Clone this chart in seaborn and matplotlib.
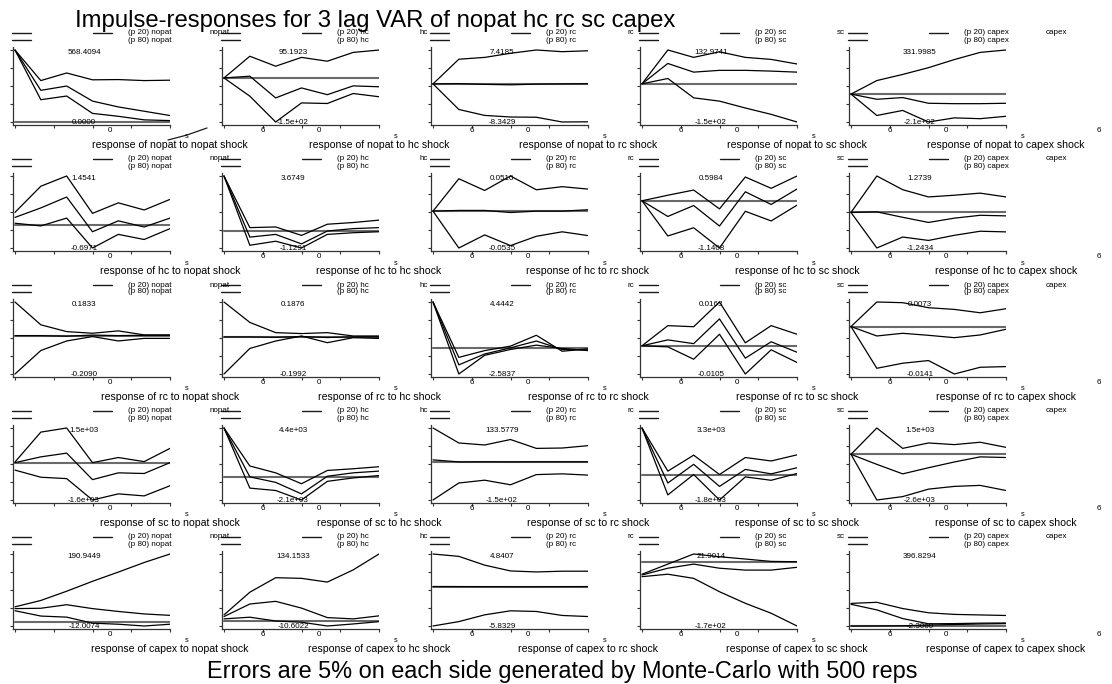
import numpy as np
import pandas as pd
import seaborn as sns
import matplotlib.pyplot as plt
from matplotlib.lines import Line2D

# variables of the VAR, steps of the impulse responses
names = ['nopat', 'hc', 'rc', 'sc', 'capex']
steps = [1, 2, 3, 4, 5, 6, 7]

# max / min labels of each panel (row = response, column = shock)
hi_labels = [['568.4094', '95.1923', '7.4185', '132.9741', '331.9985'],
             ['1.4541', '3.6749', '0.0510', '0.5984', '1.2739'],
             ['0.1833', '0.1876', '4.4442', '0.0163', '0.0073'],
             ['1.5e+03', '4.4e+03', '133.5779', '3.3e+03', '1.5e+03'],
             ['190.9449', '134.1533', '4.8407', '21.9014', '396.8294']]
lo_labels = [['0.0000', '-1.5e+02', '-8.3429', '-1.5e+02', '-2.1e+02'],
             ['-0.6971', '-1.1291', '-0.0535', '-1.1408', '-1.2434'],
             ['-0.2090', '-0.1992', '-2.5837', '-0.0105', '-0.0141'],
             ['-1.6e+03', '-2.1e+03', '-1.5e+02', '-1.8e+03', '-2.6e+03'],
             ['-12.0074', '-10.6022', '-5.8329', '-1.7e+02', '-2.3060']]

# each panel: [upper band, response, lower band]
resp_nopat = [
    [[568, 327, 387, 333, 335, 327, 330], [568, 250, 284, 165, 119, 85, 51], [568, 176, 205, 68, 45, 17, 11]],
    [[0, 74, 40, 70, 57, 87, 95], [0, 6, -68, -34, -57, -27, -30], [0, -62, -150, -85, -87, -53, -64]],
    [[0, 5.4, 5.8, 6.7, 7.42, 7.05, 7.25], [0, 0.05, -0.1, -0.2, -0.05, 0, 0.05], [0, -5.6, -6.9, -7.25, -7.3, -8.34, -8.3]],
    [[0, 133, 104, 126, 104, 96, 78], [0, 80, 46, 53, 53, 50, 46], [0, 21, -55, -68, -95, -120, -150]],
    [[0, 102, 148, 199, 260, 314, 332], [0, -39, -26, -69, -72, -72, -69], [0, -161, -123, -210, -179, -185, -167]],
]
resp_hc = [
    [[0.368, 1.149, 1.454, 0.338, 0.652, 0.439, 0.755], [0.217, 0.501, 0.826, -0.211, 0.114, -0.069, 0.196],
     [0.043, -0.037, 0.196, -0.697, -0.290, -0.443, -0.118]],
    [[3.675, 0.23, 0.275, -0.288, 0.457, 0.571, 0.73], [3.675, -0.403, -0.221, -0.855, 0.004, 0.163, 0.23],
     [3.675, -0.946, -0.677, -1.129, -0.221, -0.11, -0.043]],
    [[0, 0.047, 0.030, 0.051, 0.031, 0.0355, 0.032], [0, 0.001, 0.001, -0.002, 0, 0, 0.002],
     [0, -0.0535, -0.0345, -0.050, -0.0365, -0.030, -0.0355]],
    [[0, 0.134, 0.259, -0.196, 0.574, 0.301, 0.598], [0, -0.379, -0.115, -0.61, 0.217, -0.089, 0.284],
     [0, -0.85, -0.652, -1.141, -0.254, -0.487, -0.106]],
    [[0, 1.274, 0.795, 0.542, 0.602, 0.675, 0.542], [0, 0.02, -0.17, -0.35, -0.2, -0.1, -0.12],
     [0, -1.243, -0.86, -0.979, -0.8, -0.657, -0.68]],
]
resp_rc = [
    [[0.1833, 0.059, 0.022, 0.013, 0.026, 0.004, 0.004], [0, 0, -0.003, 0.003, 0, 0.002, 0.002],
     [-0.209, -0.081, -0.029, -0.005, -0.029, -0.015, -0.015]],
    [[0.1876, 0.078, 0.023, 0.018, 0.023, 0.005, 0.005], [0, 0, -0.002, 0.002, -0.003, 0, 0],
     [-0.1992, -0.062, -0.022, 0.005, -0.031, -0.004, -0.008]],
    [[4.444, -0.96, -0.3, 0.136, 1.197, -0.363, -0.131], [4.444, -1.69, -0.63, -0.03, 0.635, -0.19, -0.23],
     [4.444, -2.584, -0.76, -0.19, 0.234, -0.095, -0.3]],
    [[0, 0.0075, 0.0071, 0.0163, 0.0011, 0.0075, 0.0043], [0, 0.0022, 0.0008, 0.0100, -0.0046, 0.0015, -0.0024],
     [0, -0.0004, -0.005, 0.0043, -0.0105, -0.0015, -0.0062]],
    [[0, 0.0073, 0.0071, 0.0056, 0.0051, 0.0041, 0.0053], [0, -0.0028, -0.0020, -0.0026, -0.0033, -0.0025, -0.0008],
     [0, -0.0124, -0.0109, -0.0101, -0.0141, -0.0121, -0.0119]],
]
resp_sc = [
    [[37, 1323, 1500, 8, 229, 52, 623], [8, 257, 418, -723, -431, -459, 8], [-313, -620, -679, -1600, -1336, -1424, -986]],
    [[4400, 968, 353, -631, 567, 721, 903], [4400, -14, -508, -1548, 45, 353, 507], [4400, -1027, -1242, -2100, -416, -107, 110]],
    [[133.58, 74.6, 66.7, 88.2, 53.3, 54.7, 64], [8, 0, 0.5, 0, 0.5, 0.5, 0.5], [-150, -83, -72, -90, -50, -47, -52]],
    [[3300, 245, 1377, 5, 1209, 964, 1398], [3300, -596, 726, -836, 367, 51, 485], [3300, -1438, 5, -1800, -163, -404, 77]],
    [[0, 1500, 340, 648, 554, 689, 398], [0, -570, -1112, -763, -435, -144, -181], [0, -2600, -2407, -1981, -1825, -1768, -2059]],
]
resp_capex = [
    [[42, 60, 86, 114, 140, 167, 190.9], [37, 38, 48, 37, 29, 22, 18], [31, 16, 13, -4, -7, -12, -7]],
    [[11.8, 57.3, 86.5, 85.2, 77.7, 102.2, 134.2], [8.4, 33.6, 39, 25.4, 6.3, 3.7, 9.8], [3.7, 7.1, -0.5, -3, -10.6, -6.5, -1.8]],
    [[4.84, 4.49, 3.19, 2.33, 2.18, 2.29, 2.29], [0.02, 0.01, 0, -0.01, -0.01, 0, 0.01],
     [-5.83, -5.18, -4.18, -3.58, -3.68, -4.27, -4.43]],
    [[-32, -5, 21.9, 14.6, 8.5, 2.1, 1.2], [-34, -16, -5, -16, -21, -21, -13.6], [-38.5, -32, -43, -78.6, -109.5, -136, -170]],
    [[123, 129, 94.5, 71, 62, 59, 56], [118, 87, 39, 10, 11, 13.5, 14.5], [-2.3, -2.1, -1.0, 3, 6, 9, 11]],
]
responses = [resp_nopat, resp_hc, resp_rc, resp_sc, resp_capex]

sns.set_style('ticks')
plt.rcParams['font.family'] = ['Liberation Sans', 'DejaVu Sans']
plt.rcParams['text.color'] = 'black'

W, H = 1112, 684
fig = plt.figure(figsize=(W / 100, H / 100), dpi=100)


def fx(x):
    return x / W


def fy(y):
    return 1 - y / H


def seg(x0, x1, y, col='#1a1a1a'):
    fig.add_artist(Line2D([fx(x0), fx(x1)], [fy(y), fy(y)], color=col, lw=1.0))


small = 5.8
for r in range(5):
    T = 47 + 126 * r
    for c in range(5):
        L = 13 + 209 * c
        hi = float(hi_labels[r][c])
        lo = float(lo_labels[r][c])
        pad = (hi - lo) * 3 / 72
        ax = fig.add_axes([fx(L), fy(T + 78), fx(157), 78 / H])
        sns.lineplot(x=steps, y=[0] * 7, ax=ax, color='#6a6a6a', linewidth=1.5, zorder=1)
        for band in responses[r][c]:
            sns.lineplot(x=steps, y=band, ax=ax, color='black', linewidth=0.9, zorder=2)
        ax.set_xlim(1 - 12 / 155, 7)
        ax.set_ylim(lo - pad, hi + pad)
        ax.set_xticks(np.linspace(1, 7, 5))
        ax.set_yticks(np.linspace(lo, hi, 5))
        ax.set_xticklabels([])
        ax.set_yticklabels([])
        ax.tick_params(direction='out', length=2.5, width=0.8, color='#333333')
        sns.despine(ax=ax)
        for sp in ['left', 'bottom']:
            ax.spines[sp].set_color('#333333')
            ax.spines[sp].set_linewidth(0.9)
        ax.patch.set_alpha(0)

        # legend pieces
        seg(L - 1, L + 18, T - 14)
        seg(L - 1, L + 18, T - 7)
        seg(L + 80, L + 99, T - 14)
        fig.text(fx(L + 115), fy(T - 14), '(p 20) ' + names[c], fontsize=small, va='center', ha='left')
        fig.text(fx(L + 115), fy(T - 7), '(p 80) ' + names[c], fontsize=small, va='center', ha='left')
        fig.text(fx(L + 197), fy(T - 14), names[c], fontsize=small, va='center', ha='left')

        # max / min labels
        fig.text(fx(L + 71), fy(T + 5), hi_labels[r][c], fontsize=small, va='center', ha='center')
        fig.text(fx(L + 71), fy(T + 75), lo_labels[r][c], fontsize=small, va='center', ha='center')

        # tick labels and titles
        fig.text(fx(L + 97), fy(T + 84), '0', fontsize=small, va='center', ha='center')
        fig.text(fx(L + 209 + 41), fy(T + 84), '6', fontsize=small, va='center', ha='center')
        fig.text(fx(L + 174), fy(T + 90), 's', fontsize=small - 0.5, va='center', ha='center')
        fig.text(fx(L + 157), fy(T + 101), 'response of %s to %s shock' % (names[r], names[c]),
                 fontsize=7.6, va='baseline', ha='center')

# stray stroke under the first panel
fig.add_artist(Line2D([fx(168), fx(187), fx(207)], [fy(140), fy(135), fy(128)], color='#1a1a1a', lw=0.9))

fig.text(fx(375), fy(27), 'Impulse-responses for 3 lag VAR of nopat hc rc sc capex',
         fontsize=17.2, va='baseline', ha='center')
fig.text(fx(562), fy(678), 'Errors are 5% on each side generated by Monte-Carlo with 500 reps',
         fontsize=16.9, va='baseline', ha='center')

fig.savefig('out.png', dpi=100)
